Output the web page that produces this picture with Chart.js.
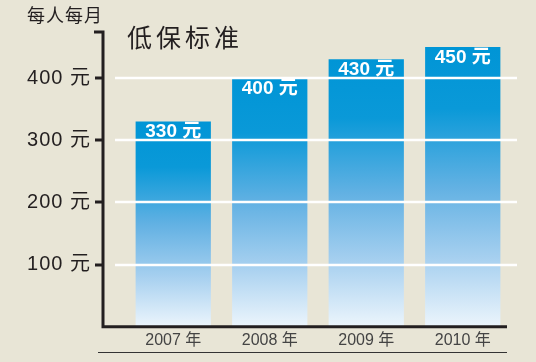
<!DOCTYPE html>
<html>
<head>
<meta charset="utf-8">
<script src="https://cdn.jsdelivr.net/npm/chart.js@4"></script>
<style>
  html, body { margin: 0; padding: 0; background: #e8e5d6; }
  #wrap { width: 536px; height: 362px; position: relative; }
</style>
</head>
<body>
<div id="wrap"><canvas id="chart" width="536" height="362"></canvas></div>
<script>
// 数据
const years = ["2007 年", "2008 年", "2009 年", "2010 年"];
const values = [330, 400, 430, 450];
const yTicks = [100, 200, 300, 400];
const unit = "元";
const chartTitle = "低保标准";
const axisTitle = "每人每月";

const FONT = "'Liberation Sans', Arial, 'Noto Sans CJK SC', sans-serif";

// 每根柱子单独的渐变（从柱顶到底部）
function barGradient(ctx) {
    const chart = ctx.chart;
    const area = chart.chartArea;
    if (!area) return "#0096d6";
    const y = chart.scales.y;
    const top = y.getPixelForValue(values[ctx.dataIndex]);
    const bottom = y.getPixelForValue(0);
    const g = chart.ctx.createLinearGradient(0, top, 0, bottom);
    g.addColorStop(0, "#0095d6");
    g.addColorStop(0.22, "#0a99d8");
    g.addColorStop(0.5, "#62b1e3");
    g.addColorStop(0.75, "#a5cfef");
    g.addColorStop(1, "#ecf5fc");
    return g;
}

// 轴线、网格线、文字
const decor = {
    id: "decor",
    afterDatasetsDraw(chart) {
        const c = chart.ctx;
        const area = chart.chartArea;
        const y = chart.scales.y;
        const axisX = area.left - 22;
        const zero = y.getPixelForValue(0);
        c.save();

        // 柱顶数值
        c.fillStyle = "#ffffff";
        c.font = "bold 19px " + FONT;
        c.textAlign = "center";
        c.textBaseline = "top";
        const meta = chart.getDatasetMeta(0);
        meta.data.forEach((bar, i) => {
            c.fillText(values[i] + " " + unit, bar.x, bar.y + 1);
        });

        // 白色网格线（压在柱子上）
        c.strokeStyle = "#ffffff";
        c.lineWidth = 2.5;
        yTicks.forEach(v => {
            const py = Math.round(y.getPixelForValue(v));
            c.beginPath();
            c.moveTo(axisX + 12, py);
            c.lineTo(area.right + 6, py);
            c.stroke();
        });

        // 纵轴与刻度
        c.strokeStyle = "#231f20";
        c.lineWidth = 3;
        c.beginPath();
        c.moveTo(axisX - 9, area.top);
        c.lineTo(axisX, area.top);
        c.lineTo(axisX, zero);
        c.lineTo(area.right - 4, zero);
        c.stroke();
        yTicks.forEach(v => {
            const py = Math.round(y.getPixelForValue(v));
            c.beginPath();
            c.moveTo(axisX - 8, py);
            c.lineTo(axisX, py);
            c.stroke();
        });

        // 纵轴刻度文字
        c.fillStyle = "#231f20";
        c.font = "20px " + FONT;
        c.letterSpacing = "1px";
        c.textAlign = "right";
        c.textBaseline = "middle";
        yTicks.forEach(v => {
            c.fillText(v + " " + unit, axisX - 12, y.getPixelForValue(v));
        });

        // 底部细线
        c.letterSpacing = "0px";
        c.strokeStyle = "#333333";
        c.lineWidth = 1;
        c.beginPath();
        c.moveTo(axisX - 5, 352.5);
        c.lineTo(area.right - 4, 352.5);
        c.stroke();

        // 标题
        c.textAlign = "left";
        c.textBaseline = "top";
        c.fillStyle = "#231f20";
        c.font = "18px " + FONT;
        c.letterSpacing = "1px";
        c.fillText(axisTitle, 27, 8);
        c.font = "25px " + FONT;
        c.letterSpacing = "4px";
        c.fillText(chartTitle, 127, 28);
        c.restore();
    }
};

new Chart(document.getElementById("chart").getContext("2d"), {
    type: "bar",
    data: {
        labels: years,
        datasets: [{
            data: values,
            backgroundColor: barGradient,
            borderWidth: 0,
            barPercentage: 0.78,
            categoryPercentage: 1
        }]
    },
    options: {
        responsive: false,
        animation: false,
        layout: { padding: { left: 125, right: 25, top: 32, bottom: 8 } },
        plugins: { legend: { display: false }, tooltip: { enabled: false } },
        scales: {
            x: {
                grid: { display: false, drawTicks: false },
                border: { display: false },
                ticks: {
                    color: "#444444",
                    font: { size: 16, family: FONT },
                    padding: 4
                }
            },
            y: {
                display: false,
                min: 0,
                max: 474
            }
        }
    },
    plugins: [decor]
});
</script>
</body>
</html>
